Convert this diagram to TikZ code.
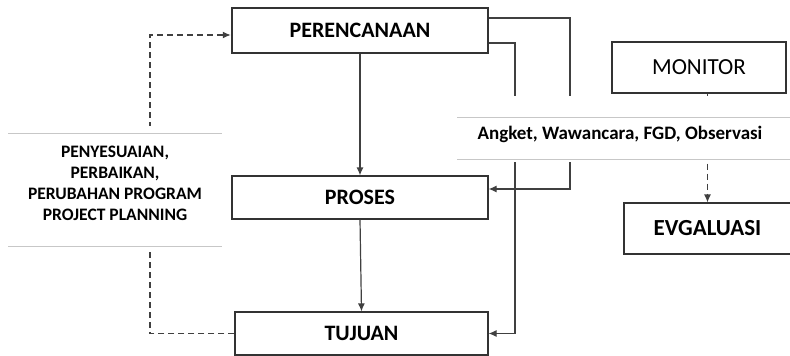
\documentclass[tikz,border=0pt]{standalone}
\usepackage{fontspec}
\setmainfont{Carlito}
\usetikzlibrary{arrows.meta}

\tikzset{
  box/.style={draw=black!80, line width=1.2pt, fill=white, inner sep=0pt},
  boxtxt/.style={font=\bfseries\fontsize{22}{26}\selectfont},
  arr/.style={draw=black!75, line width=1.2pt, -{Latex[length=8pt,width=7pt]}},
  fb/.style={arr, dash pattern=on 6pt off 4pt},
  rule/.style={draw=black!22, line width=1pt},
}

\begin{document}
\begin{tikzpicture}[x=1pt, y=-1pt]
    \useasboundingbox (0,0) rectangle (790,356);

    % Main boxes
    \node[box, boxtxt, line width=2.5pt, minimum width=256pt, minimum height=45pt] (per) at (360,30.5) {PERENCANAAN};
    \node[box, boxtxt, minimum width=256pt, minimum height=43pt] (pro) at (360,197.5) {PROSES};
    \node[box, boxtxt, minimum width=253pt, minimum height=43pt] (tuj) at (361.5,333.5) {TUJUAN};
    \node[box, font=\fontsize{23}{27}\selectfont, minimum width=174pt, minimum height=51pt] (mon) at (699,67.5) {MONITOR};
    \node[box, font=\bfseries\fontsize{23}{27}\selectfont, minimum width=167pt, minimum height=51pt] (evg) at (707.5,228.5) {EVGALUASI};

    % Flow down the middle
    \draw[arr] (per.south) -- (pro.north);
    \draw[arr] (pro.south) -- (tuj.north);

    % Lines from planning to process and goal
    \coordinate (a1) at (570,18);
    \coordinate (a2) at (570,189);
    \draw[arr] (per.east |- a1) -- (a1) -- (a2) -- (pro.east |- a2);
    \coordinate (b1) at (515,43);
    \draw[arr] (per.east |- b1) -- (b1) |- (tuj.east);

    % Monitoring and feedback loop
    \draw[fb] (mon.south -| evg.north) -- (evg.north);
    \coordinate (f1) at (150,35);
    \draw[fb] (tuj.west) -| (f1) -- (per.west |- f1);

    % Instruments band
    \fill[white] (457,96) rectangle (790,162);
    \draw[rule] (457,117) -- (790,117);
    \draw[rule] (457,159) -- (790,159);
    \node[font=\bfseries\fontsize{19}{22}\selectfont] (alat) at (620,134) {Angket, Wawancara, FGD, Observasi};

    % Feedback band
    \fill[white] (8,126) rectangle (222,252);
    \draw[rule] (8,133) -- (222,133);
    \draw[rule] (8,246) -- (222,246);
    \node[align=center, font=\bfseries\fontsize{17.5}{21}\selectfont] (ubah) at (115,183)
        {PENYESUAIAN,\\PERBAIKAN,\\PERUBAHAN PROGRAM\\PROJECT PLANNING};
\end{tikzpicture}
\end{document}
